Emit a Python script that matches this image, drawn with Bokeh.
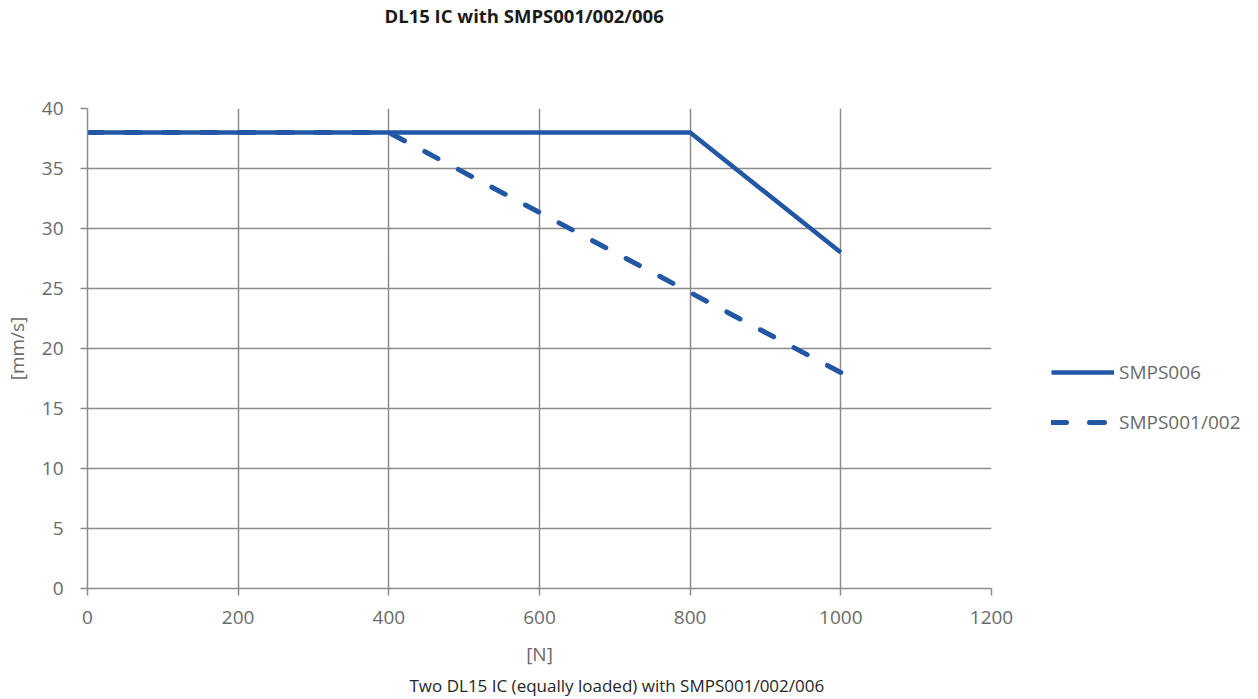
from bokeh.plotting import figure
from bokeh.models import Range1d, Title, Legend, LegendItem, FixedTicker
from bokeh.embed import file_html
from bokeh.resources import INLINE

# data
smps006_x = [0, 800, 1000]
smps006_y = [38, 38, 28]
smps001_x = [0, 400, 1000]
smps001_y = [38, 38, 18]
x_ticks = [0, 200, 400, 600, 800, 1000, 1200]
y_ticks = [0, 5, 10, 15, 20, 25, 30, 35, 40]

FONT = "Open Sans"
BLUE = "#2157a5"
GRID = "#8c8c8c"
TXT = "#6a6a6a"

p = figure(frame_width=904, frame_height=480, output_backend="svg", toolbar_location=None,
           x_range=Range1d(0, 1200), y_range=Range1d(0, 40),
           min_border_left=80, min_border_right=258, min_border_top=100, min_border_bottom=100)
p.outline_line_color = None
p.background_fill_color = "white"

for ax in (p.xaxis[0], p.yaxis[0]):
    ax.axis_line_color = GRID
    ax.axis_line_width = 1.5
    ax.major_tick_line_color = GRID
    ax.major_tick_line_width = 1.5
    ax.major_tick_out = 7
    ax.major_tick_in = 0
    ax.minor_tick_line_color = None
    ax.major_label_text_font = FONT
    ax.major_label_text_font_size = "19px"
    ax.major_label_text_color = TXT
    ax.axis_label_text_font = FONT
    ax.axis_label_text_font_size = "19px"
    ax.axis_label_text_color = TXT
    ax.axis_label_text_font_style = "normal"

p.xaxis.ticker = FixedTicker(ticks=x_ticks)
p.yaxis.ticker = FixedTicker(ticks=y_ticks)
p.xaxis.axis_label = "[N]"
p.yaxis.axis_label = "[mm/s]"
p.xaxis.major_label_standoff = 15
p.yaxis.major_label_standoff = 17
p.xaxis.axis_label_standoff = 14
p.yaxis.axis_label_standoff = 9

p.grid.grid_line_color = GRID
p.grid.grid_line_width = 1.5

r1 = p.line(smps006_x, smps006_y, line_color=BLUE, line_width=4.5)
r2 = p.line(smps001_x, smps001_y, line_color=BLUE, line_width=5, line_dash="15 23",
            line_cap="round")

legend = Legend(items=[LegendItem(label="SMPS006", renderers=[r1]),
                       LegendItem(label="SMPS001/002", renderers=[r2])],
                location=(60, 153), orientation="vertical",
                glyph_width=63, glyph_height=24, label_height=24, spacing=24,
                padding=0, margin=0, label_standoff=5,
                label_text_font=FONT, label_text_font_size="19px",
                label_text_color=TXT, border_line_color=None,
                background_fill_alpha=0)
p.add_layout(legend, "right")

# spacer between frame and title (closest to the frame)
spacer = Title(text=" ", standoff=74, text_font_size="1px")
p.add_layout(spacer, "above")

title = Title(text="DL15 IC with SMPS001/002/006", align="left", offset=297, standoff=4,
              vertical_align="top",
              text_font=FONT, text_font_size="18.5px", text_font_style="bold",
              text_color="#1a1a1a")
p.add_layout(title, "above")

sub = Title(text="Two DL15 IC (equally loaded) with SMPS001/002/006", align="left", offset=322,
            standoff=4,
            text_font=FONT, text_font_size="17px", text_font_style="normal",
            text_color="#262626")
p.add_layout(sub, "below")

open("out.html", "w").write(file_html(p, INLINE))
